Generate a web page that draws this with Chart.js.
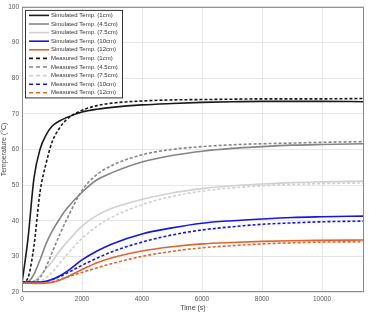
<!DOCTYPE html>
<html>
<head>
<meta charset="utf-8">
<script src="https://cdn.jsdelivr.net/npm/chart.js@4.4.1/dist/chart.umd.min.js"></script>
<style>
  html, body { margin: 0; padding: 0; background: #fff; }
  #wrap { width: 369px; height: 312px; }
</style>
</head>
<body>
<div id="wrap"><canvas id="chart"></canvas></div>
<script>
//------------------ Data ------------------//
const times = [0, 200, 400, 600, 800, 1000, 1250, 1500, 2000, 2500, 3000, 4000, 5000, 6000, 7000, 8000, 9000, 10000, 11400];

const sim1   = [22.5, 35, 52, 60, 64, 66.5, 68, 69, 70.5, 71.3, 71.8, 72.5, 72.9, 73.2, 73.4, 73.5, 73.5, 73.5, 73.4];
const sim45  = [22.5, 22.8, 25, 29, 33.5, 37, 40.5, 43.5, 48, 51.5, 53.5, 56.5, 58.3, 59.5, 60.3, 60.8, 61.2, 61.4, 61.6];
const sim75  = [22.5, 22.5, 23, 24.5, 26.5, 28.5, 31.5, 34, 38.5, 41.5, 43.5, 46, 47.8, 49, 49.8, 50.3, 50.7, 50.9, 51.1];
const sim10  = [22.8, 22.8, 22.8, 22.8, 23, 23.5, 24.5, 25.8, 29, 31.5, 33.5, 36.3, 38, 39.3, 40, 40.5, 40.9, 41.1, 41.3];
const sim12  = [22.5, 22.5, 22.4, 22.4, 22.5, 22.7, 23.3, 24.2, 26.3, 28.2, 29.6, 31.5, 32.7, 33.5, 33.9, 34.2, 34.4, 34.5, 34.6];

const meas1  = [22.5, 24, 33, 48, 56, 62, 66, 68.5, 71, 72.3, 73, 73.6, 73.9, 74, 74.1, 74.2, 74.2, 74.2, 74.3];
const meas45 = [22.5, 22.5, 23, 24, 27, 31, 36, 40.5, 48.5, 53, 55.5, 58.5, 60, 60.8, 61.3, 61.6, 61.8, 62, 62.2];
const meas75 = [22.5, 22.5, 22.6, 23, 24, 25.5, 28, 30.5, 35, 38.5, 41, 44.5, 46.8, 48.3, 49.2, 49.8, 50.2, 50.4, 50.6];
const meas10 = [22.8, 22.8, 22.8, 22.8, 23, 23.5, 24.3, 25.3, 27.5, 29.5, 31.3, 34, 36, 37.4, 38.3, 39, 39.4, 39.7, 39.9];
const meas12 = [22.5, 22.5, 22.5, 22.5, 22.6, 22.9, 23.5, 24.2, 25.5, 26.8, 28, 30, 31.4, 32.4, 33, 33.5, 33.8, 34, 34.1];

const labels = [
  'Simulated Temp. (1cm)', 'Simulated Temp. (4.5cm)', 'Simulated Temp. (7.5cm)',
  'Simulated Temp. (10cm)', 'Simulated Temp. (12cm)',
  'Measured Temp. (1cm)', 'Measured Temp. (4.5cm)', 'Measured Temp. (7.5cm)',
  'Measured Temp. (10cm)', 'Measured Temp. (12cm)'
];
const colors = ['#1a1a1a', '#858585', '#d0d0d0', '#1515e6', '#e0642e'];
const xTicks = [0, 2000, 4000, 6000, 8000, 10000];
const yTicks = [20, 30, 40, 50, 60, 70, 80, 90, 100];

//------------------ Build datasets ------------------//
const series = [sim1, sim45, sim75, sim10, sim12, meas1, meas45, meas75, meas10, meas12];
const datasets = series.map((vals, i) => {
  const measured = i >= 5;
  return {
    label: labels[i],
    data: vals.map((v, k) => ({ x: times[k], y: v })),
    borderColor: colors[i % 5],
    borderWidth: 1.6,
    borderDash: measured ? [3, 2] : [],
    pointRadius: 0,
    cubicInterpolationMode: 'monotone',
    fill: false
  };
});
// draw measured under simulated like the original plot order
datasets.reverse();

const FONT = 'Liberation Sans, Arial, sans-serif';

// box around the axes plus an inside legend
const boxPlugin = {
  id: 'box',
  afterDatasetsDraw(chart) {
    const { ctx, chartArea: a } = chart;
    ctx.save();
    ctx.strokeStyle = '#8a8a8a';
    ctx.lineWidth = 1;
    ctx.strokeRect(a.left + 0.5, a.top + 0.5, a.right - a.left - 1, a.bottom - a.top - 1);

    // legend
    const x0 = a.left + 3, y0 = a.top + 3, w = 97, rowH = 8.6;
    const n = labels.length;
    ctx.fillStyle = '#fff';
    ctx.fillRect(x0, y0, w, rowH * n + 1.5);
    ctx.strokeStyle = '#333';
    ctx.strokeRect(x0 + 0.5, y0 + 0.5, w, rowH * n + 1.5);
    ctx.font = '6px ' + FONT;
    ctx.textBaseline = 'middle';
    labels.forEach((lab, i) => {
      const y = y0 + 5.5 + i * rowH;
      ctx.strokeStyle = colors[i % 5];
      ctx.lineWidth = 1.6;
      ctx.setLineDash(i >= 5 ? [4, 3] : []);
      ctx.beginPath();
      ctx.moveTo(x0 + 4, y);
      ctx.lineTo(x0 + 24, y);
      ctx.stroke();
      ctx.setLineDash([]);
      ctx.fillStyle = '#333';
      ctx.fillText(lab, x0 + 26, y);
    });
    ctx.restore();
  }
};

new Chart(document.getElementById('chart'), {
  type: 'line',
  data: { datasets },
  options: {
    responsive: true,
    maintainAspectRatio: false,
    animation: false,
    layout: { padding: { top: 6, right: 5, left: 0, bottom: 0 } },
    plugins: { legend: { display: false }, tooltip: { enabled: false } },
    scales: {
      x: {
        type: 'linear',
        min: 0,
        max: 11400,
        afterBuildTicks(scale) { scale.ticks = xTicks.map(v => ({ value: v })); },
        afterFit(scale) { scale.height = 20; },
        border: { display: false },
        grid: { color: '#e6e6e6', drawTicks: false },
        ticks: { font: { size: 6.5, family: FONT }, color: '#555', padding: 3, maxRotation: 0, callback: v => String(v) },
        title: { display: true, text: 'Time (s)', font: { size: 7, family: FONT }, color: '#444', padding: { top: 0, bottom: 0 } }
      },
      y: {
        min: 20,
        max: 100,
        afterBuildTicks(scale) { scale.ticks = yTicks.map(v => ({ value: v })); },
        afterFit(scale) { scale.width = 22; },
        border: { display: false },
        grid: { color: '#e6e6e6', drawTicks: false },
        ticks: { font: { size: 6.5, family: FONT }, color: '#555', padding: 3, callback: v => String(v) },
        title: { display: true, text: 'Temperature (°C)', font: { size: 7, family: FONT }, color: '#444', padding: { top: 0, bottom: 0 } }
      }
    }
  },
  plugins: [boxPlugin]
});
</script>
</body>
</html>
